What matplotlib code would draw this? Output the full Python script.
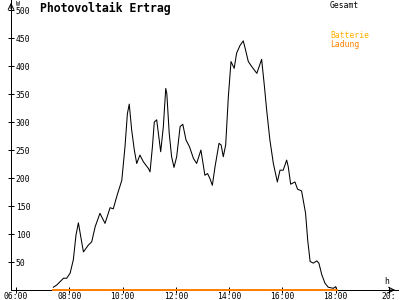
import matplotlib
matplotlib.use("Agg")
import matplotlib.pyplot as plt

# Gesamt (W) over time of day (hours)
hours = [7.40, 7.53, 7.78, 7.90, 8.03, 8.15, 8.25, 8.34, 8.47, 8.53,
         8.71, 8.84, 8.97, 9.15, 9.34, 9.53, 9.65, 9.78, 9.97, 10.09,
         10.18, 10.25, 10.34, 10.44, 10.53, 10.65, 10.78, 10.97, 11.03, 11.12,
         11.19, 11.28, 11.43, 11.53, 11.62, 11.66, 11.75, 11.84, 11.93, 12.03,
         12.16, 12.26, 12.38, 12.51, 12.66, 12.78, 12.94, 13.09, 13.19, 13.28,
         13.37, 13.47, 13.62, 13.70, 13.78, 13.87, 13.97, 14.07, 14.19, 14.28,
         14.41, 14.53, 14.60, 14.72, 14.85, 15.04, 15.22, 15.32, 15.41, 15.53,
         15.66, 15.81, 15.91, 16.03, 16.16, 16.22, 16.31, 16.47, 16.57, 16.72,
         16.78, 16.87, 16.95, 17.04, 17.16, 17.29, 17.37, 17.48, 17.60, 17.72,
         17.91, 18.00, 18.04]
gesamt = [5, 9, 21, 21, 30, 54, 98, 120, 84, 68,
          80, 86, 113, 137, 119, 147, 145, 167, 196, 256,
          315, 332, 286, 250, 226, 241, 229, 217, 211, 256,
          300, 304, 247, 292, 360, 351, 280, 238, 219, 238,
          292, 296, 268, 256, 235, 226, 250, 205, 208, 199,
          187, 220, 262, 259, 238, 259, 345, 408, 396, 423,
          437, 445, 432, 408, 399, 387, 412, 366, 321, 268,
          226, 193, 214, 214, 232, 220, 189, 193, 180, 177,
          161, 137, 89, 51, 48, 52, 48, 27, 12, 5,
          3, 6, 0]
ladung = [0] * len(hours)

xticks = [6, 8, 10, 12, 14, 16, 18, 20]
xlabels = ["06:00", "08:00", "10:00", "12:00", "14:00", "16:00", "18:00", "20:"]
yticks = [50, 100, 150, 200, 250, 300, 350, 400, 450, 500]

mono = "DejaVu Sans Mono"
fig = plt.figure(figsize=(4, 3), dpi=100)
ax = fig.add_axes([11 / 400, 10 / 300, 387 / 400, 290 / 300])
ax.set_xlim(5.81, 20.34)
ax.set_ylim(0, 518)

ax.plot(hours, gesamt, color="black", lw=0.75)
ax.plot(hours, ladung, color="#ff8000", lw=1.4, clip_on=False, zorder=4)

for s in ["top", "right"]:
    ax.spines[s].set_visible(False)
ax.spines["left"].set_linewidth(0.72)
ax.spines["bottom"].set_linewidth(0.72)
ax.annotate("", xy=(1, 0), xytext=(0.97, 0), xycoords="axes fraction",
            arrowprops=dict(arrowstyle="->", lw=0.72, color="black"))
ax.annotate("", xy=(0, 1), xytext=(0, 0.96), xycoords="axes fraction",
            arrowprops=dict(arrowstyle="->", lw=0.72, color="black"))

ax.set_xticks(xticks)
ax.set_xticklabels(xlabels, fontfamily=mono, fontsize=5.8)
ax.set_yticks(yticks)
ax.set_yticklabels([str(v) for v in yticks], fontfamily=mono, fontsize=5.8)
ax.tick_params(axis="both", direction="inout", length=4.3, width=0.72)
ax.tick_params(axis="x", pad=-0.5)
ax.tick_params(axis="y", pad=-5.5)
for lab in ax.get_yticklabels():
    lab.set_ha("left")

fig.text(40 / 400, 1 - 8 / 300, "Photovoltaik Ertrag", fontfamily=mono,
         fontweight="bold", fontsize=8.3, va="center", ha="left")
fig.text(16 / 400, 1 - 1 / 300, "W", fontfamily=mono, fontsize=4.8,
         va="top", ha="left")
fig.text(330 / 400, 1 - 5 / 300, "Gesamt", fontfamily=mono, fontsize=5.8,
         va="center", ha="left", color="black")
fig.text(330 / 400, 1 - 36 / 300, "Batterie", fontfamily=mono, fontsize=5.8,
         va="center", ha="left", color="#ffb000")
fig.text(330 / 400, 1 - 44 / 300, "Ladung", fontfamily=mono, fontsize=5.8,
         va="center", ha="left", color="#ff8000")
fig.text(387 / 400, 1 - 281 / 300, "h", fontfamily=mono, fontsize=5.8,
         va="center", ha="center")

fig.savefig("out.png", dpi=100)
